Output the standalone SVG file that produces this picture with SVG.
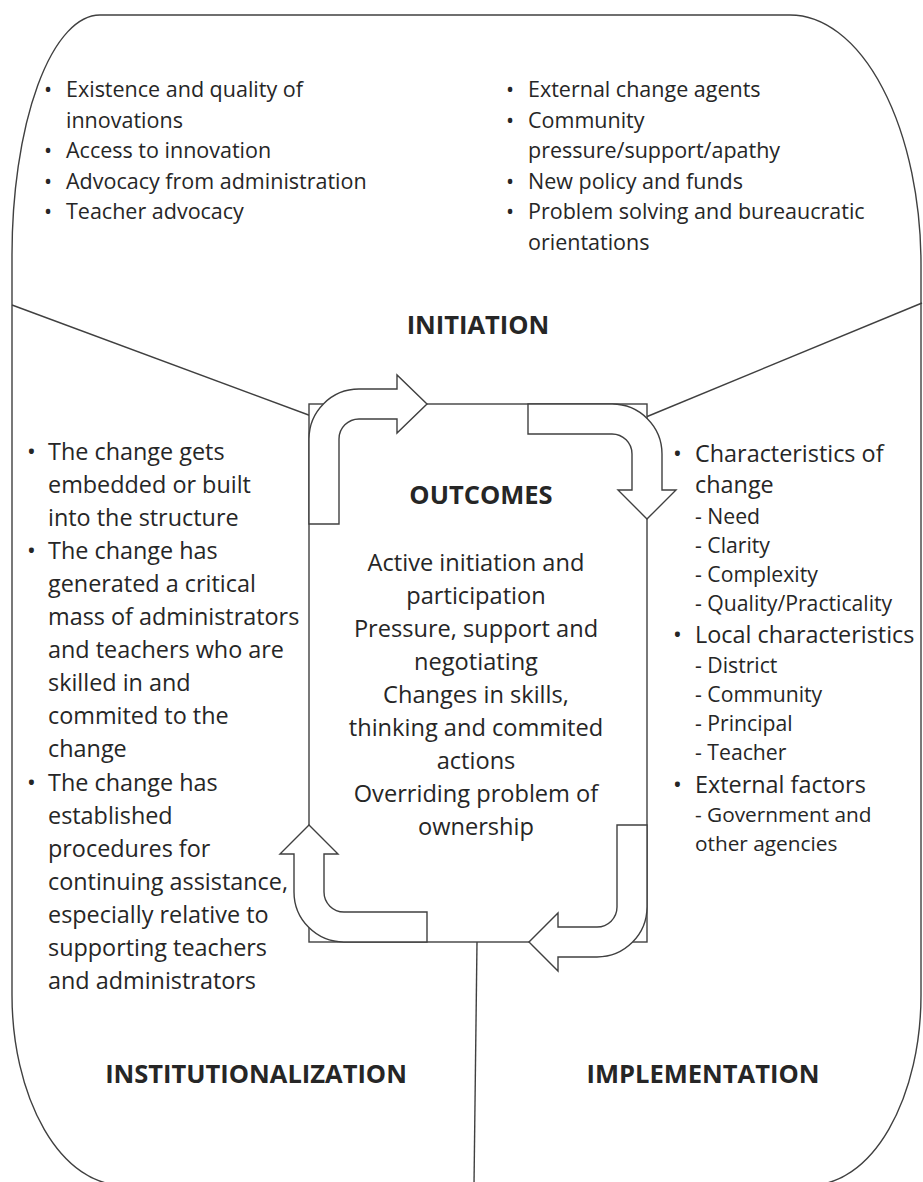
<svg xmlns="http://www.w3.org/2000/svg" width="923" height="1182" viewBox="0 0 923 1182">
  <style>
    .line { fill: none; stroke: #404040; stroke-width: 1.4; }
    .arrow { fill: #ffffff; stroke: #404040; stroke-width: 1.4; stroke-linejoin: miter; }
    .box { fill: #ffffff; stroke: #404040; stroke-width: 1.4; }
    text { font-family: "Open Sans", "Liberation Sans", sans-serif; fill: #262626; }
    .title { font-weight: bold; font-size: 25.5px; text-anchor: middle; }
    .top { font-size: 21.5px; }
    .body { font-size: 23.4px; }
    .sub { font-size: 21.2px; }
    .small { font-size: 20.8px; }
    .center { font-size: 23.6px; text-anchor: middle; }
  </style>

  <!-- outer rounded frame and the three dividers -->
  <g id="frame">
    <path class="line" d="M 100,15 H 790 A 131,250 0 0 1 921,265 V 995 A 110,190 0 0 1 811,1185 H 122 A 110,190 0 0 1 12,995 V 255 A 88,240 0 0 1 100,15 Z"/>
    <path class="line" d="M 12,305 L 314,417"/>
    <path class="line" d="M 646,417 L 922,303"/>
    <path class="line" d="M 477,942 L 474,1185"/>
  </g>

  <!-- central outcomes box -->
  <g id="outcomes">
    <rect class="box" x="309" y="404" width="338" height="538"/>
  </g>

  <!-- four bent arrows forming the cycle -->
  <g id="connectors">
    <path class="arrow" d="M 309,524 V 439 A 50,50 0 0 1 359,389 H 397 V 375 L 427,404 L 397,433 V 419 H 359 A 20,20 0 0 0 339,439 V 524 Z"/>
    <path class="arrow" d="M 528,404 H 612 A 50,50 0 0 1 662,454 V 490 H 676 L 647,519 L 618,490 H 632 V 454 A 20,20 0 0 0 612,434 H 528 Z"/>
    <path class="arrow" d="M 647,825 V 907 A 50,50 0 0 1 597,957 H 558 V 971 L 529,942 L 558,913 V 927 H 597 A 20,20 0 0 0 617,907 V 825 Z"/>
    <path class="arrow" d="M 427,942 H 344 A 50,50 0 0 1 294,892 V 854 H 280 L 309,825 L 338,854 H 324 V 892 A 20,20 0 0 0 344,912 H 427 Z"/>
  </g>

  <!-- initiation factors -->
  <g id="initiation">
    <g class="top">
      <text x="44" y="97">•</text><text x="66" y="97">Existence and quality of</text>
      <text x="66" y="127.5">innovations</text>
      <text x="44" y="158">•</text><text x="66" y="158">Access to innovation</text>
      <text x="44" y="188.5">•</text><text x="66" y="188.5">Advocacy from administration</text>
      <text x="44" y="219">•</text><text x="66" y="219">Teacher advocacy</text>

      <text x="506" y="97">•</text><text x="528" y="97">External change agents</text>
      <text x="506" y="127.5">•</text><text x="528" y="127.5">Community</text>
      <text x="528" y="158">pressure/support/apathy</text>
      <text x="506" y="188.5">•</text><text x="528" y="188.5">New policy and funds</text>
      <text x="506" y="219">•</text><text x="528" y="219">Problem solving and bureaucratic</text>
      <text x="528" y="249.5">orientations</text>
    </g>
    <text class="title" x="478" y="334">INITIATION</text>
  </g>

  <!-- outcomes text -->
  <g id="outcomes-text">
    <text class="title" x="481" y="504">OUTCOMES</text>
    <g class="center">
      <text x="476" y="571">Active initiation and</text>
      <text x="476" y="604">participation</text>
      <text x="476" y="637">Pressure, support and</text>
      <text x="476" y="670">negotiating</text>
      <text x="476" y="703">Changes in skills,</text>
      <text x="476" y="736">thinking and commited</text>
      <text x="476" y="769">actions</text>
      <text x="476" y="802">Overriding problem of</text>
      <text x="476" y="835">ownership</text>
    </g>
  </g>

  <!-- implementation factors -->
  <g id="implementation">
    <text class="body" x="673" y="462">•</text><text class="body" x="695" y="462">Characteristics of</text>
    <text class="body" x="695" y="493">change</text>
    <text class="sub" x="695" y="524">- Need</text>
    <text class="sub" x="695" y="553">- Clarity</text>
    <text class="sub" x="695" y="582">- Complexity</text>
    <text class="sub" x="695" y="611">- Quality/Practicality</text>
    <text class="body" x="673" y="643">•</text><text class="body" x="695" y="643">Local characteristics</text>
    <text class="sub" x="695" y="673">- District</text>
    <text class="sub" x="695" y="702">- Community</text>
    <text class="sub" x="695" y="731">- Principal</text>
    <text class="sub" x="695" y="760">- Teacher</text>
    <text class="body" x="673" y="793">•</text><text class="body" x="695" y="793">External factors</text>
    <text class="small" x="695" y="822">- Government and</text>
    <text class="small" x="695" y="851">other agencies</text>
    <text class="title" x="703" y="1083">IMPLEMENTATION</text>
  </g>

  <!-- institutionalization factors -->
  <g id="institutionalization">
    <g class="body">
      <text x="27" y="460">•</text><text x="48" y="460">The change gets</text>
      <text x="48" y="493">embedded or built</text>
      <text x="48" y="526">into the structure</text>
      <text x="27" y="559">•</text><text x="48" y="559">The change has</text>
      <text x="48" y="592">generated a critical</text>
      <text x="48" y="625">mass of administrators</text>
      <text x="48" y="658">and teachers who are</text>
      <text x="48" y="691">skilled in and</text>
      <text x="48" y="724">commited to the</text>
      <text x="48" y="757">change</text>
      <text x="27" y="791">•</text><text x="48" y="791">The change has</text>
      <text x="48" y="824">established</text>
      <text x="48" y="857">procedures for</text>
      <text x="48" y="890">continuing assistance,</text>
      <text x="48" y="923">especially relative to</text>
      <text x="48" y="956">supporting teachers</text>
      <text x="48" y="989">and administrators</text>
    </g>
    <text class="title" x="256" y="1083">INSTITUTIONALIZATION</text>
  </g>
</svg>
